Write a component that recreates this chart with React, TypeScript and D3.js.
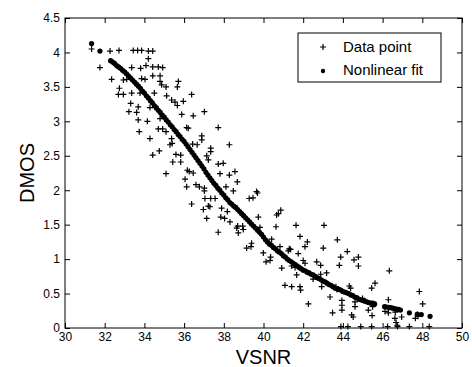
import { useEffect, useRef } from 'react';
import * as d3 from 'd3';

const xTicks = [30, 32, 34, 36, 38, 40, 42, 44, 46, 48, 50];
const yTicks = [0, 0.5, 1, 1.5, 2, 2.5, 3, 3.5, 4, 4.5];

const seriesNames = ['Data point', 'Nonlinear fit'];

// [VSNR, DMOS]
const dataPoints: [number, number][] = [
  [31.34, 4.05], [31.76, 3.78], [32.27, 4.02], [32.72, 4.03], [32.35, 3.61], [32.94, 3.6], [33.11, 3.61],
  [32.74, 3.48], [32.69, 3.39], [32.94, 3.39],
  [33.44, 4.03], [33.66, 4.03], [33.86, 4.03], [33.36, 3.78], [33.81, 3.77], [33.86, 3.62], [33.36, 3.41],
  [33.78, 3.41], [33.31, 3.26], [33.69, 3.21], [33.61, 3.13], [33.22, 3.14], [33.69, 3.02], [33.74, 2.85],
  [34.2, 4.02], [34.42, 4.02], [34.2, 3.91], [34.08, 3.81], [34.42, 3.79], [34.7, 3.79], [34.92, 3.78],
  [34.03, 3.61], [34.42, 3.66], [34.79, 3.66], [34.79, 3.58], [34.87, 3.53], [34.5, 3.41], [34.28, 3.2],
  [34.53, 3.2], [34.15, 3.0], [34.79, 3.04], [34.7, 2.89], [34.92, 2.89], [34.28, 2.75], [34.42, 2.51],
  [34.75, 2.57],
  [35.71, 3.58], [35.66, 3.5], [35.09, 3.5], [35.12, 3.37], [35.37, 3.31], [35.54, 3.28], [35.96, 3.29],
  [35.66, 3.23], [35.88, 3.1], [35.09, 2.85], [35.37, 2.75], [35.29, 2.66], [35.4, 2.68], [35.59, 2.52],
  [35.83, 2.51], [35.43, 2.41], [35.83, 2.41], [35.09, 2.24],
  [36.38, 3.39], [36.46, 3.08], [36.13, 2.91], [36.21, 2.9], [36.89, 2.79], [36.89, 2.73], [36.43, 2.67],
  [36.66, 2.66], [36.16, 2.29], [36.26, 2.27], [36.46, 2.25], [36.05, 2.16], [36.13, 2.05], [36.6, 2.08],
  [36.77, 2.05], [37.02, 2.03], [37.02, 1.99], [36.38, 1.8], [36.97, 1.72],
  [37.02, 3.14], [37.72, 2.91], [37.34, 2.61], [37.34, 2.56], [37.14, 2.5], [37.22, 2.44], [37.72, 2.38],
  [37.97, 2.39], [37.81, 2.24], [37.34, 1.88], [37.56, 1.88], [37.05, 1.88], [37.22, 1.77], [37.3, 1.76],
  [37.89, 1.74], [37.14, 1.59], [37.85, 1.61], [38.04, 1.59], [37.72, 1.39],
  [38.28, 2.66], [38.28, 2.22], [38.56, 2.27], [38.68, 2.12], [38.11, 2.05], [38.48, 1.99], [38.18, 1.69],
  [38.31, 1.54], [38.65, 1.45], [38.73, 1.38], [38.98, 1.43], [38.7, 1.48], [38.95, 1.48],
  [39.65, 1.98], [39.28, 1.88], [39.47, 1.89], [39.7, 1.96], [39.74, 1.61], [39.82, 1.46], [39.15, 1.16],
  [39.4, 1.23], [39.37, 1.18], [39.99, 1.09],
  [40.24, 1.23], [40.13, 0.96], [40.33, 0.98], [40.36, 1.03], [40.92, 0.87], [40.66, 1.64], [40.75, 1.66],
  [40.87, 1.71], [40.63, 1.47], [40.41, 1.29], [40.83, 1.18],
  [41.3, 1.15], [41.64, 1.49], [41.25, 1.12], [41.36, 1.14], [41.84, 1.33], [41.75, 1.08], [41.42, 0.9],
  [41.59, 0.88], [41.67, 0.77], [41.08, 0.62], [41.42, 0.6], [41.84, 0.6], [41.87, 0.55],
  [42.21, 1.25], [42.09, 1.18], [42.0, 0.98], [42.09, 0.94], [42.68, 0.96], [42.88, 0.91], [42.26, 0.35],
  [42.5, 0.71], [42.88, 0.78], [43.18, 0.8], [42.93, 0.6], [43.01, 1.16], [43.05, 1.49],
  [43.72, 1.28], [43.89, 1.03], [44.22, 1.11], [43.82, 0.91], [43.35, 0.45], [43.65, 0.6], [43.7, 0.56],
  [43.95, 0.4], [43.95, 0.33], [43.95, 0.26], [43.48, 0.22],
  [44.32, 0.61], [44.39, 0.58], [44.56, 0.99], [44.78, 1.03], [44.78, 0.9], [44.61, 0.31], [44.61, 0.38],
  [44.44, 0.19], [44.52, 0.16], [44.99, 0.43],
  [45.45, 0.58], [45.62, 0.65], [45.28, 0.26], [45.5, 0.31], [45.47, 0.18],
  [46.29, 0.41], [46.34, 0.83], [46.12, 0.24], [46.29, 0.22], [46.62, 0.14], [46.68, 0.08], [46.74, 0.04],
  [46.96, 0.16], [46.64, 0.23], [47.85, 0.53], [48.02, 0.35], [47.65, 0.14], [47.78, 0.17],
  [43.9, 0.02], [44.25, 0.02], [44.9, 0.02], [45.45, 0.02], [46.25, 0.02], [46.75, 0.02], [47.35, 0.02],
  [48.35, 0.02],
];

// [VSNR, fitted DMOS]
const fitPoints: [number, number][] = [
  [31.34, 4.13], [31.76, 4.02], [32.3, 3.88], [32.4, 3.86], [32.5, 3.84], [32.6, 3.81], [32.7, 3.79],
  [32.8, 3.77], [32.9, 3.74], [33.0, 3.72], [33.1, 3.69], [33.2, 3.66], [33.3, 3.63], [33.4, 3.6],
  [33.5, 3.57], [33.6, 3.54], [33.7, 3.51], [33.8, 3.48], [33.9, 3.44], [34.0, 3.41], [34.1, 3.37],
  [34.2, 3.34], [34.3, 3.3], [34.4, 3.27], [34.5, 3.23], [34.6, 3.2], [34.7, 3.16], [34.8, 3.13],
  [34.9, 3.09], [35.0, 3.06], [35.1, 3.02], [35.2, 2.99], [35.3, 2.95], [35.4, 2.92], [35.5, 2.88],
  [35.6, 2.85], [35.7, 2.81], [35.8, 2.78], [35.9, 2.74], [36.0, 2.71], [36.1, 2.67], [36.2, 2.63],
  [36.3, 2.59], [36.4, 2.55], [36.5, 2.51], [36.6, 2.47], [36.7, 2.43], [36.8, 2.39], [36.9, 2.35],
  [37.0, 2.31], [37.1, 2.26], [37.2, 2.22], [37.3, 2.18], [37.4, 2.14], [37.5, 2.1], [37.6, 2.07],
  [37.7, 2.03], [37.8, 2.0], [37.9, 1.96], [38.0, 1.93], [38.1, 1.89], [38.2, 1.86], [38.3, 1.82],
  [38.4, 1.8], [38.5, 1.77], [38.6, 1.75], [38.7, 1.72], [38.8, 1.69], [38.9, 1.66], [39.0, 1.63],
  [39.1, 1.6], [39.2, 1.57], [39.3, 1.54], [39.4, 1.51], [39.5, 1.48], [39.6, 1.45], [39.7, 1.42],
  [39.8, 1.39], [39.9, 1.36], [40.0, 1.32], [40.1, 1.28], [40.2, 1.25], [40.3, 1.22], [40.4, 1.2],
  [40.5, 1.17], [40.6, 1.15], [40.7, 1.12], [40.8, 1.1], [40.9, 1.08], [41.0, 1.05], [41.1, 1.03],
  [41.2, 1.0], [41.3, 0.98], [41.4, 0.96], [41.5, 0.94], [41.6, 0.92], [41.7, 0.9], [41.8, 0.88],
  [41.9, 0.86], [42.0, 0.84], [42.1, 0.83], [42.2, 0.81], [42.3, 0.8], [42.4, 0.78], [42.5, 0.77],
  [42.6, 0.75], [42.7, 0.73], [42.8, 0.72], [42.9, 0.7], [43.0, 0.68], [43.1, 0.67], [43.2, 0.65],
  [43.3, 0.63], [43.4, 0.62], [43.5, 0.6], [43.6, 0.58], [43.7, 0.57], [43.8, 0.56], [43.9, 0.55],
  [44.0, 0.53], [44.1, 0.52], [44.2, 0.51], [44.3, 0.5], [44.4, 0.48], [44.5, 0.47], [44.6, 0.45],
  [44.7, 0.44], [44.8, 0.42], [44.9, 0.41], [45.0, 0.4], [45.1, 0.39], [45.2, 0.38], [45.3, 0.37],
  [45.4, 0.36], [45.5, 0.36], [45.6, 0.35], [46.1, 0.31], [46.2, 0.305], [46.3, 0.3], [46.4, 0.295],
  [46.5, 0.29], [46.6, 0.28], [46.7, 0.275], [46.8, 0.27], [46.9, 0.26], [47.35, 0.22], [47.75, 0.2],
  [47.95, 0.195], [48.39, 0.17],
];

const W = 472;
const H = 367;
const margin = { top: 18, right: 10, bottom: 39, left: 65 };
const FONT = '"Liberation Sans", Arial, Helvetica, sans-serif';

const crossSymbol = {
  draw(context: d3.Path, size: number) {
    const r = Math.sqrt(size) / 2;
    context.moveTo(-r, 0);
    context.lineTo(r, 0);
    context.moveTo(0, -r);
    context.lineTo(0, r);
  },
};

export default function App() {
  const svgRef = useRef<SVGSVGElement>(null);

  useEffect(() => {
    if (!svgRef.current) return;
    const svg = d3.select(svgRef.current);
    svg.selectAll('*').remove();

    const innerW = W - margin.left - margin.right;
    const innerH = H - margin.top - margin.bottom;

    const x = d3.scaleLinear().domain([30, 50]).range([0, innerW]);
    const y = d3.scaleLinear().domain([0, 4.5]).range([innerH, 0]);

    const g = svg.append('g').attr('transform', `translate(${margin.left},${margin.top})`);

    g.append('rect')
      .attr('width', innerW)
      .attr('height', innerH)
      .attr('fill', 'white');

    const cross = d3.symbol().type(crossSymbol as any).size(36);

    g.selectAll('.pt')
      .data(dataPoints)
      .enter()
      .append('path')
      .attr('class', 'pt')
      .attr('transform', (d) => `translate(${x(d[0])},${y(d[1])})`)
      .attr('d', cross)
      .attr('stroke', '#000')
      .attr('stroke-width', 1.2)
      .attr('fill', 'none');

    g.selectAll('.fit')
      .data(fitPoints)
      .enter()
      .append('circle')
      .attr('class', 'fit')
      .attr('cx', (d) => x(d[0]))
      .attr('cy', (d) => y(d[1]))
      .attr('r', 2.6)
      .attr('fill', '#000');

    const fmt = (d: d3.NumberValue) => String(+d);

    const styleAxis = (sel: d3.Selection<SVGGElement, unknown, null, undefined>) => {
      sel.select('.domain').remove();
      sel.selectAll('line').attr('stroke', '#000');
      sel.selectAll('text').attr('fill', '#000').attr('font-size', 12).attr('font-family', FONT);
    };

    g.append('g')
      .attr('transform', `translate(0,${innerH})`)
      .call(d3.axisBottom(x).tickValues(xTicks).tickFormat(fmt).tickSize(-5).tickPadding(4))
      .call(styleAxis);

    g.append('g')
      .call(d3.axisLeft(y).tickValues(yTicks).tickFormat(fmt).tickSize(-5).tickPadding(5))
      .call(styleAxis);

    g.append('g')
      .call(d3.axisTop(x).tickValues(xTicks).tickFormat(() => '').tickSize(-5))
      .call(styleAxis);

    g.append('g')
      .attr('transform', `translate(${innerW},0)`)
      .call(d3.axisRight(y).tickValues(yTicks).tickFormat(() => '').tickSize(-5))
      .call(styleAxis);

    g.append('rect')
      .attr('width', innerW)
      .attr('height', innerH)
      .attr('fill', 'none')
      .attr('stroke', '#000')
      .attr('stroke-width', 1);

    svg.append('text')
      .attr('x', margin.left + innerW / 2)
      .attr('y', H - 3)
      .attr('text-anchor', 'middle')
      .attr('font-family', FONT)
      .attr('font-size', 20)
      .text('VSNR');

    svg.append('text')
      .attr('transform', `translate(34,${margin.top + innerH / 2}) rotate(-90)`)
      .attr('text-anchor', 'middle')
      .attr('font-family', FONT)
      .attr('font-size', 20)
      .text('DMOS');

    // legend
    const legend = svg.append('g').attr('transform', 'translate(298,33)');
    legend.append('rect')
      .attr('width', 143)
      .attr('height', 49)
      .attr('fill', 'white')
      .attr('stroke', '#000')
      .attr('stroke-width', 1);

    legend.append('path')
      .attr('transform', 'translate(25,14)')
      .attr('d', cross)
      .attr('stroke', '#000')
      .attr('stroke-width', 1.2)
      .attr('fill', 'none');
    legend.append('circle')
      .attr('cx', 25)
      .attr('cy', 38)
      .attr('r', 2.2)
      .attr('fill', '#000');

    legend.selectAll('.lbl')
      .data(seriesNames)
      .enter()
      .append('text')
      .attr('class', 'lbl')
      .attr('x', 45)
      .attr('y', (_, i) => 19 + i * 23)
      .attr('font-family', FONT)
      .attr('font-size', 15)
      .text((d) => d);
  }, []);

  return (
    <div style={{ position: 'absolute', left: 0, top: 0 }}>
      <svg ref={svgRef} width={W} height={H} style={{ display: 'block', background: 'white' }} />
    </div>
  );
}
